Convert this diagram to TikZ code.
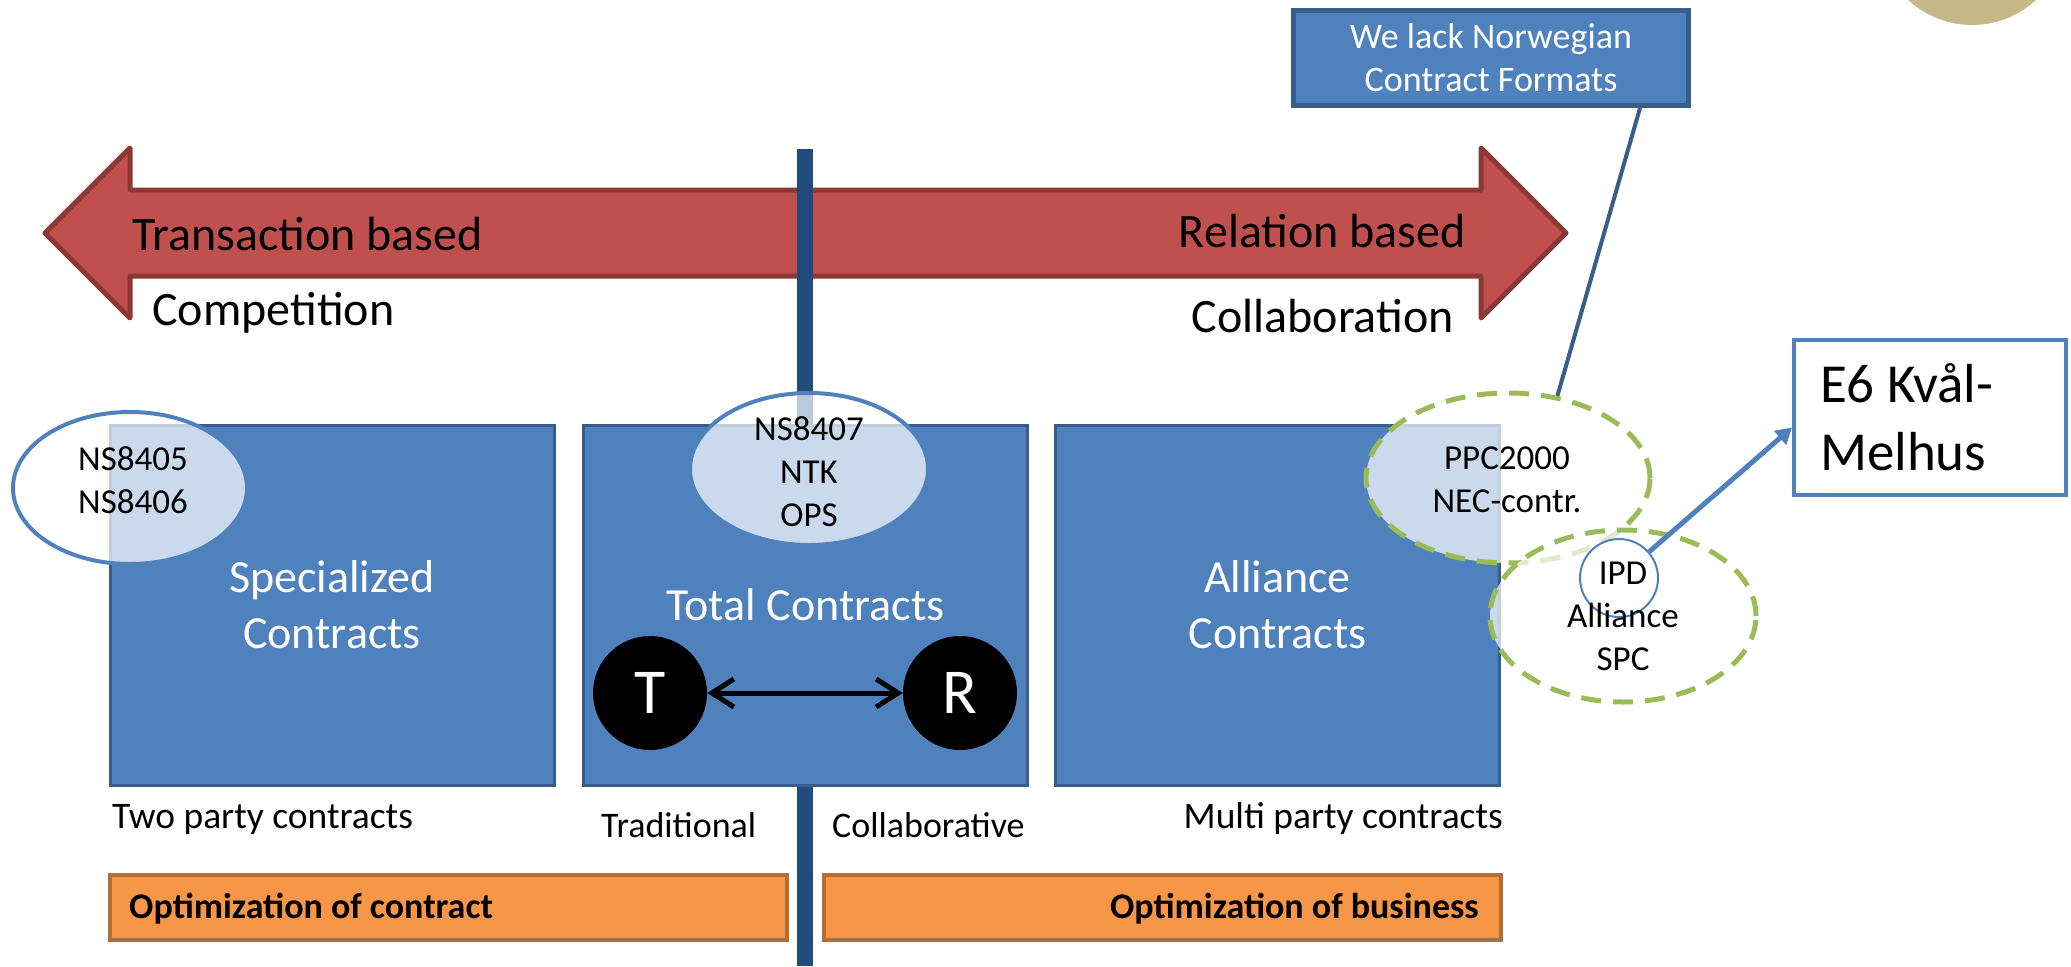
\documentclass[tikz,border=0pt]{standalone}
\usepackage{fontspec}
\setmainfont{Carlito}
\usetikzlibrary{shapes.geometric,arrows.meta,calc}
\definecolor{boxblue}{HTML}{4F81BD}
\definecolor{boxline}{HTML}{385D8A}
\definecolor{arrowred}{HTML}{C0504D}
\definecolor{arrowline}{HTML}{8C3836}
\definecolor{orangefill}{HTML}{F79646}
\definecolor{orangeline}{HTML}{B66D31}
\definecolor{greenline}{HTML}{9BBB59}
\definecolor{beige}{HTML}{C6B887}
\definecolor{axisblue}{HTML}{214B7E}
\tikzset{
  cbox/.style={draw=boxline, fill=boxblue, line width=3pt, minimum width=444pt,
    minimum height=360pt, inner sep=0pt, text=white, align=center,
    font=\fontsize{46}{56}\selectfont},
  blueell/.style={ellipse, draw=boxblue, line width=4pt, fill=white, fill opacity=0.7,
    inner sep=0pt},
  greenell/.style={ellipse, draw=greenline, line width=5pt, dash pattern=on 20pt off 12pt,
    fill=white, fill opacity=0.7, inner sep=0pt},
  smalltxt/.style={font=\fontsize{35}{43}\selectfont, align=center, text=black, inner sep=0pt},
  lbl/.style={font=\fontsize{37.5}{44}\selectfont, inner sep=0pt},
  lblsmall/.style={font=\fontsize{36}{43}\selectfont, inner sep=0pt},
  boldlbl/.style={font=\fontsize{36}{43}\selectfont\bfseries, inner sep=0pt},
  bigtxt/.style={font=\fontsize{48}{58}\selectfont, inner sep=0pt},
  obar/.style={draw=orangeline, fill=orangefill, line width=4pt, minimum width=677pt,
    minimum height=65pt, inner sep=0pt},
  party/.style={circle, fill=black, minimum size=114pt, inner sep=0pt, text=white,
    font=\fontsize{64}{70}\selectfont},
  twoway/.style={line width=5pt, black,
    {Straight Barb[length=22pt,width=28pt]}-{Straight Barb[length=22pt,width=28pt]}},
  notebox/.style={draw=boxline, fill=boxblue, line width=5pt, minimum width=395pt,
    minimum height=95pt, inner sep=0pt, text=white, align=center,
    font=\fontsize{36}{43}\selectfont},
  connline/.style={draw=boxline, line width=4pt},
  casebox/.style={draw=boxblue, fill=white, line width=4pt, minimum width=272pt,
    minimum height=155pt, inner sep=0pt, text width=220pt, align=flush left,
    font=\fontsize{55}{68}\selectfont},
  casearrow/.style={draw=boxblue, line width=5pt, -{Triangle[length=16pt,width=18pt]}},
  ipdcirc/.style={circle, draw=boxblue, line width=2pt, minimum size=78pt, inner sep=0pt},
}
\begin{document}
\begin{tikzpicture}[x=1pt,y=-1pt]
\path[use as bounding box] (0,0) rectangle (2071,966);
% decorative corner circle
\begin{scope}
\clip (0,0) rectangle (2071,966);
\fill[beige] (1972,-69) circle (94pt);
\end{scope}
% double arrow
\draw[fill=arrowred, draw=arrowline, line width=5pt, line join=round]
  (45,233) -- (130,148) -- (130,190) -- (1481,190) -- (1481,148) -- (1566,233)
  -- (1481,318) -- (1481,276) -- (130,276) -- (130,318) -- cycle;
% axis line
\coordinate (axtop) at (805,149);
\coordinate (axbot) at (805,966);
\draw[axisblue, line width=16pt] (axtop) -- (axbot);
% contract boxes
\node[cbox] (spec) at (332,605) {Specialized\\Contracts};
\node[cbox] (total) at (805.5,605) {Total Contracts};
\node[cbox] (alli) at (1277.5,605) {Alliance\\Contracts};
% ellipses
\node[blueell, minimum width=234pt, minimum height=152pt] (e1) at (130,488) {};
\node[blueell, minimum width=238pt, minimum height=152pt] (e2) at (809,469) {};
\node[greenell, minimum width=284pt, minimum height=170pt] (ppc) at (1508,478) {};
\node[greenell, minimum width=266pt, minimum height=172pt] (ipd) at (1623,616) {};
\node[ipdcirc] (ipdc) at (1619,578) {};
\node[smalltxt] (e1t) at (133,480) {NS8405\\NS8406};
\node[smalltxt] (e2t) at (809,472) {NS8407\\NTK\\OPS};
\node[smalltxt] (ppct) at (1507,480) {PPC2000\\NEC-contr.};
\node[smalltxt] (ipdt) at (1623,616) {IPD\\Alliance\\SPC};
% T and R
\node[party] (T) at (650,693) {T};
\node[party] (R) at (960,693) {R};
\draw[twoway] (T) -- (R);
% arrow texts
\node[bigtxt, anchor=base west] (trans) at (132,250) {Transaction based};
\node[bigtxt, anchor=base east] (rel) at (1466,247) {Relation based};
\node[bigtxt, anchor=base west] (comp) at (152,325) {Competition};
\node[bigtxt, anchor=base east] (coll) at (1454,332) {Collaboration};
% labels below boxes
\node[lbl, anchor=base west] (two) at (112,828) {Two party contracts};
\node[lblsmall, anchor=base west] (trad) at (601,837) {Traditional};
\node[lblsmall, anchor=base west] (collab) at (832,837) {Collaborative};
\node[lbl, anchor=base east] (multi) at (1503,828) {Multi party contracts};
% orange bars
\node[obar] (bar1) at (448.5,907.5) {};
\node[obar] (bar2) at (1162.5,907.5) {};
\node[boldlbl, anchor=base west] (opt1) at (129,918) {Optimization of contract};
\node[boldlbl, anchor=base east] (opt2) at (1479,918) {Optimization of business};
% note box and connector
\node[notebox] (lack) at (1491,58) {We lack Norwegian\\Contract Formats};
\draw[connline] ([xshift=149pt]lack.south) -- (ppc.59);
% case box
\node[casebox] (e6) at (1930,417.5) {E6 Kvål-\\Melhus};
\draw[casearrow] (ipdc) -- ([yshift=-10pt]e6.west);
\end{tikzpicture}
\end{document}
